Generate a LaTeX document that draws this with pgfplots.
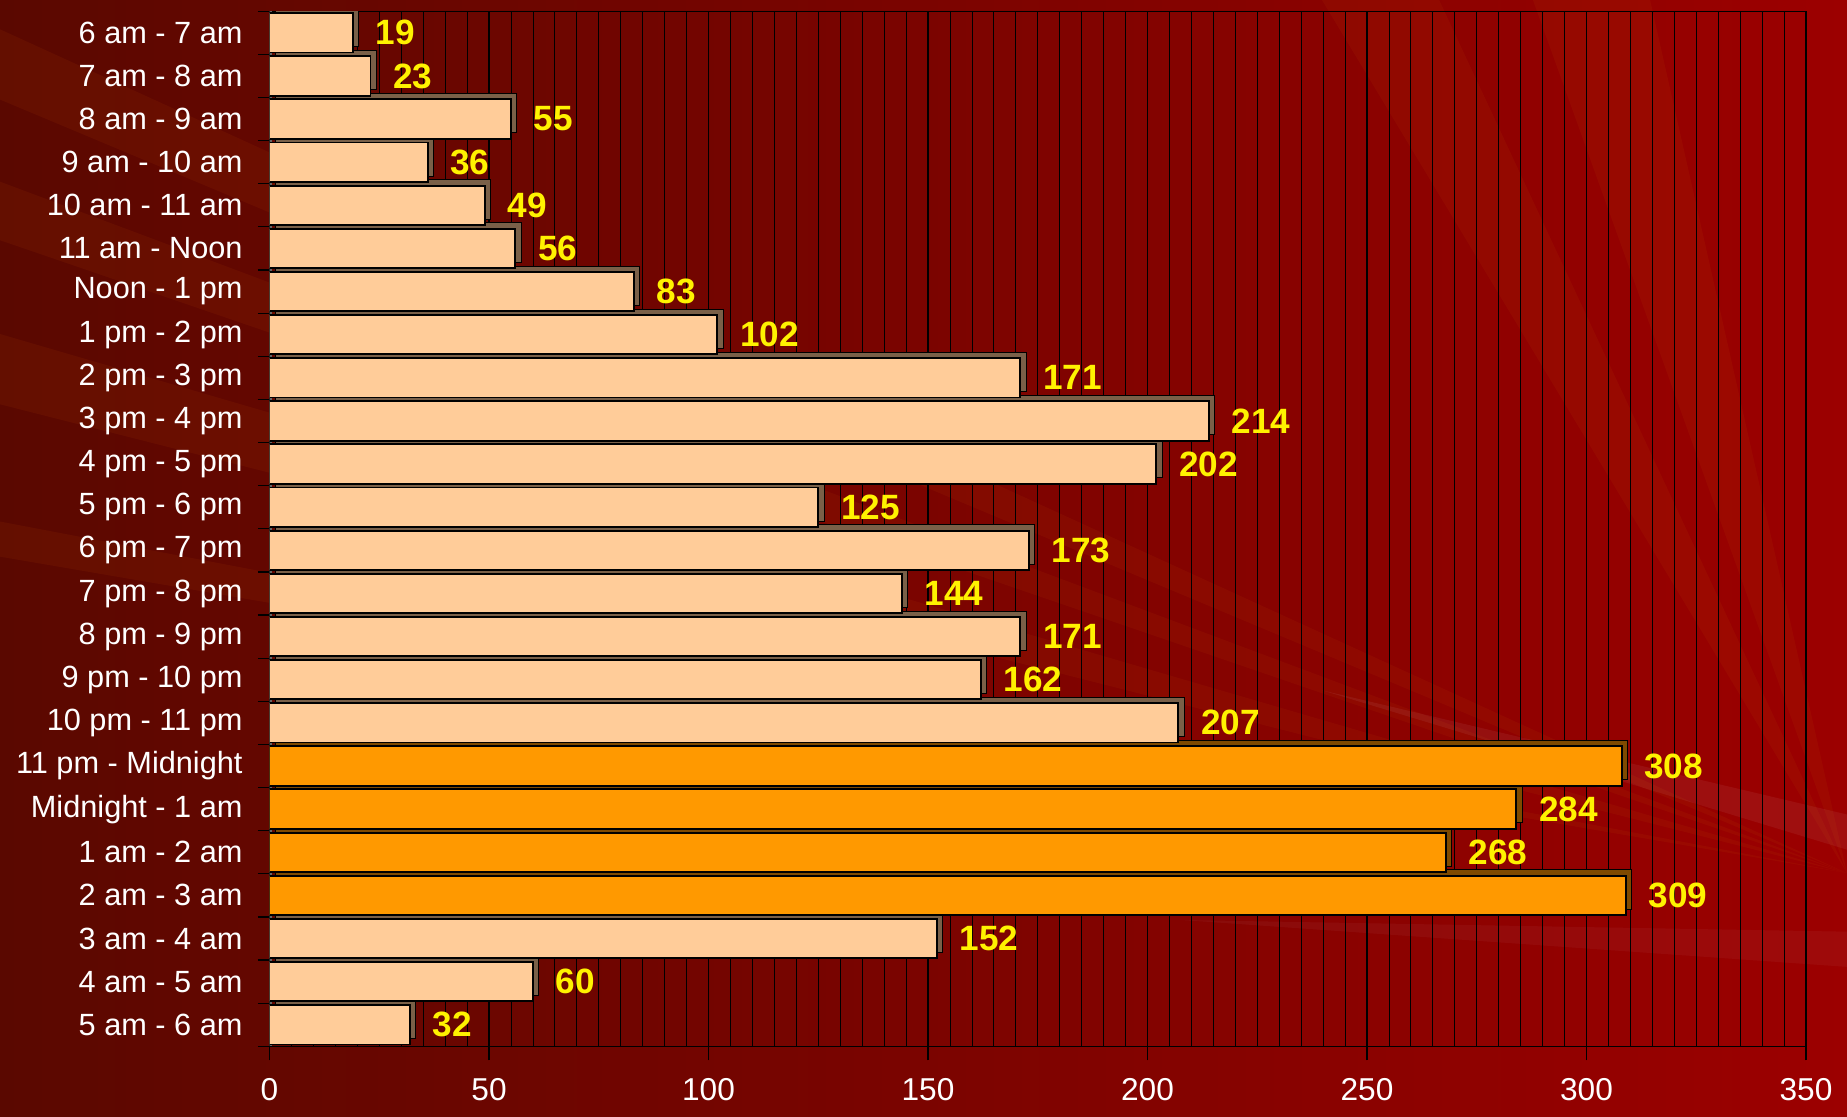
\documentclass[border=0pt]{standalone}
\usepackage{fontspec}
\setmainfont{Liberation Sans}
\usepackage{pgfplots}
\pgfplotsset{compat=1.18}
\usetikzlibrary{backgrounds,calc}
\definecolor{peach}{HTML}{FFCC99}
\definecolor{orangebar}{HTML}{FF9900}
\definecolor{sidepeach}{HTML}{7A6048}
\definecolor{sideorange}{HTML}{7F4A00}
\definecolor{bgdark}{HTML}{5A0800}
\definecolor{bgred}{HTML}{9C0000}
\definecolor{rayc}{HTML}{C05000}
\begin{document}
\begin{tikzpicture}[x=1pt,y=1pt]
\begin{axis}[
  scale only axis,
  width=655.5pt, height=441.6pt,
  xmin=0, xmax=350, ymin=-0.5, ymax=23.5, y dir=reverse,
  xbar, bar width=16.8pt, bar shift=0pt,
  xtick={0,50,...,350}, minor x tick num=9,
  ytick={0,...,23},
  yticklabels={6 am - 7 am, 7 am - 8 am, 8 am - 9 am, 9 am - 10 am, 10 am - 11 am, 11 am - Noon, Noon - 1 pm, 1 pm - 2 pm, 2 pm - 3 pm, 3 pm - 4 pm, 4 pm - 5 pm, 5 pm - 6 pm, 6 pm - 7 pm, 7 pm - 8 pm, 8 pm - 9 pm, 9 pm - 10 pm, 10 pm - 11 pm, 11 pm - Midnight, Midnight - 1 am, 1 am - 2 am, 2 am - 3 am, 3 am - 4 am, 4 am - 5 am, 5 am - 6 am},
  minor ytick={-0.5,0.5,...,23.5},
  xmajorgrids, xminorgrids,
  major grid style={black, line width=0.6pt},
  minor grid style={black, line width=0.35pt},
  axis line style={black, line width=0.6pt},
  tick align=outside, tick pos=left,
  major tick length=6pt, minor tick length=5pt,
  minor x tick style={draw=none},
  major y tick style={draw=none},
  minor y tick style={black, line width=0.5pt},
  major x tick style={black, line width=0.5pt},
  /pgf/number format/assume math mode=true,
  xticklabel style={white, font=\fontsize{13.5}{13.5}\selectfont, yshift=-4pt},
  yticklabel style={white, font=\fontsize{13.1}{13.1}\selectfont, xshift=-2pt},
  nodes near coords style={yellow, font=\bfseries\fontsize{15}{15}\selectfont, anchor=west, xshift=6pt},
]
\coordinate (O) at (axis cs:0,23.5);
\draw[gray!80!black, line width=2.5pt] (axis cs:0,-0.5) -- (axis cs:0,23.5);
% 3D side faces
\addplot[fill=sidepeach, draw=black, line width=0.4pt, xshift=2.5pt, yshift=2.5pt, forget plot] coordinates {
(19,0) (23,1) (55,2) (36,3) (49,4) (56,5) (83,6) (102,7) (171,8) (214,9) (202,10) (125,11) (173,12) (144,13) (171,14) (162,15) (207,16) (152,21) (60,22) (32,23)};
\addplot[fill=sideorange, draw=black, line width=0.4pt, xshift=2.5pt, yshift=2.5pt, forget plot] coordinates {
(308,17) (284,18) (268,19) (309,20)};
% front faces
\addplot[fill=peach, draw=black, line width=0.8pt, nodes near coords] coordinates {
(19,0) (23,1) (55,2) (36,3) (49,4) (56,5) (83,6) (102,7) (171,8) (214,9) (202,10) (125,11) (173,12) (144,13) (171,14) (162,15) (207,16) (152,21) (60,22) (32,23)};
\addplot[fill=orangebar, draw=black, line width=0.8pt, nodes near coords] coordinates {
(308,17) (284,18) (268,19) (309,20)};
\end{axis}
\begin{scope}[on background layer, shift={($(O)+(-111pt,-26.1pt)$)}]
\shade[left color=bgdark, right color=bgred] (-4,-4) rectangle (784,472.5);
\foreach \a/\b in {{560,472.5}/{610,472.5},{650,472.5}/{700,472.5},{-4,460}/{-4,430},{-4,395}/{-4,370},{-4,330}/{-4,300},{-4,250}/{-4,235}}
  \fill[rayc, fill opacity=0.10] (784,100) -- (\a) -- (\b) -- cycle;
\fill[white, fill opacity=0.06] (784,110) -- (560,178) -- (784,125) -- cycle;
\fill[white, fill opacity=0.04] (784,60) -- (500,80) -- (784,75) -- cycle;
\end{scope}
\end{tikzpicture}
\end{document}
